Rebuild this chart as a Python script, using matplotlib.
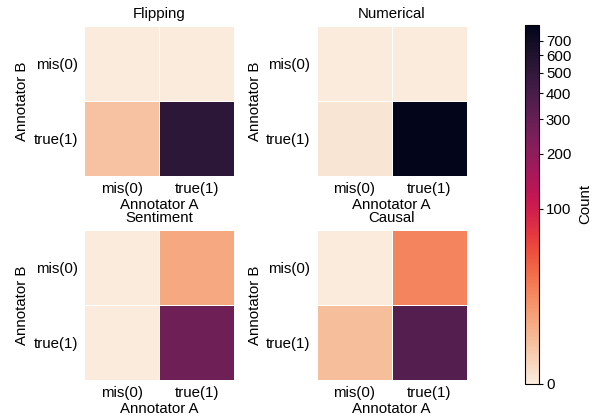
import matplotlib
matplotlib.use("Agg")
import matplotlib.pyplot as plt
import numpy as np
import seaborn as sns
from matplotlib.colors import FuncNorm
from matplotlib.cm import ScalarMappable

plt.rcParams['font.family'] = ['Liberation Sans', 'DejaVu Sans']
plt.rcParams['font.size'] = 10.8

# counts: rows = Annotator B (mis, true), cols = Annotator A (mis, true)
titles = ['Flipping', 'Numerical', 'Sentiment', 'Causal']
flipping = [[0, 0], [8, 526]]
numerical = [[0, 0], [1, 820]]
sentiment = [[0, 15], [0, 280]]
causal = [[0, 28], [9, 355]]
labels = ['mis(0)', 'true(1)']
cbar_ticks = [0, 100, 200, 300, 400, 500, 600, 700]

tables = [flipping, numerical, sentiment, causal]
vmax = max(np.max(t) for t in tables)

# compressed colour scale (between log and power)
c, g = 10.0, 0.1
norm = FuncNorm((lambda x: (1 + np.asarray(x) / c) ** g - 1,
                 lambda y: c * ((1 + np.asarray(y)) ** (1 / g) - 1)),
                vmin=0, vmax=vmax)
cmap = sns.color_palette('rocket_r', as_cmap=True)

W, H = 592, 418
fig = plt.figure(figsize=(W / 100, H / 100), dpi=100)

# pixel boxes (left, top, right, bottom)
boxes = [(84.3, 26, 234.3, 176), (316.7, 26, 466.7, 176),
         (84.3, 230, 234.3, 380), (316.7, 230, 466.7, 380)]

for title, data, (l, t, r, b) in zip(titles, tables, boxes):
    ax = fig.add_axes([l / W, 1 - b / H, (r - l) / W, (b - t) / H])
    ax.pcolormesh(np.array(data), cmap=cmap, norm=norm,
                  edgecolors='white', linewidth=0.6)
    ax.set_xlim(0, 2)
    ax.set_ylim(2, 0)
    ax.set_xticks([0.5, 1.5])
    ax.set_yticks([0.5, 1.5])
    ax.set_xticklabels(labels)
    ax.set_yticklabels(labels, rotation=0)
    ax.tick_params(length=0, pad=4.5)
    for s in ax.spines.values():
        s.set_visible(False)
    ax.set_xlabel('Annotator A', labelpad=1)
    ax.set_ylabel('Annotator B', labelpad=3)
    ax.set_title(title, fontsize=10.8, pad=5.5)

cax = fig.add_axes([525 / W, 1 - 383.5 / H, 14 / W, (383.5 - 25) / H])
sm = ScalarMappable(norm=norm, cmap=cmap)
cb = fig.colorbar(sm, cax=cax, ticks=cbar_ticks)
cb.outline.set_linewidth(0.8)
cax.tick_params(length=3, width=0.8, pad=2)
cb.set_label('Count', labelpad=5)

fig.savefig('out.png', dpi=100)
